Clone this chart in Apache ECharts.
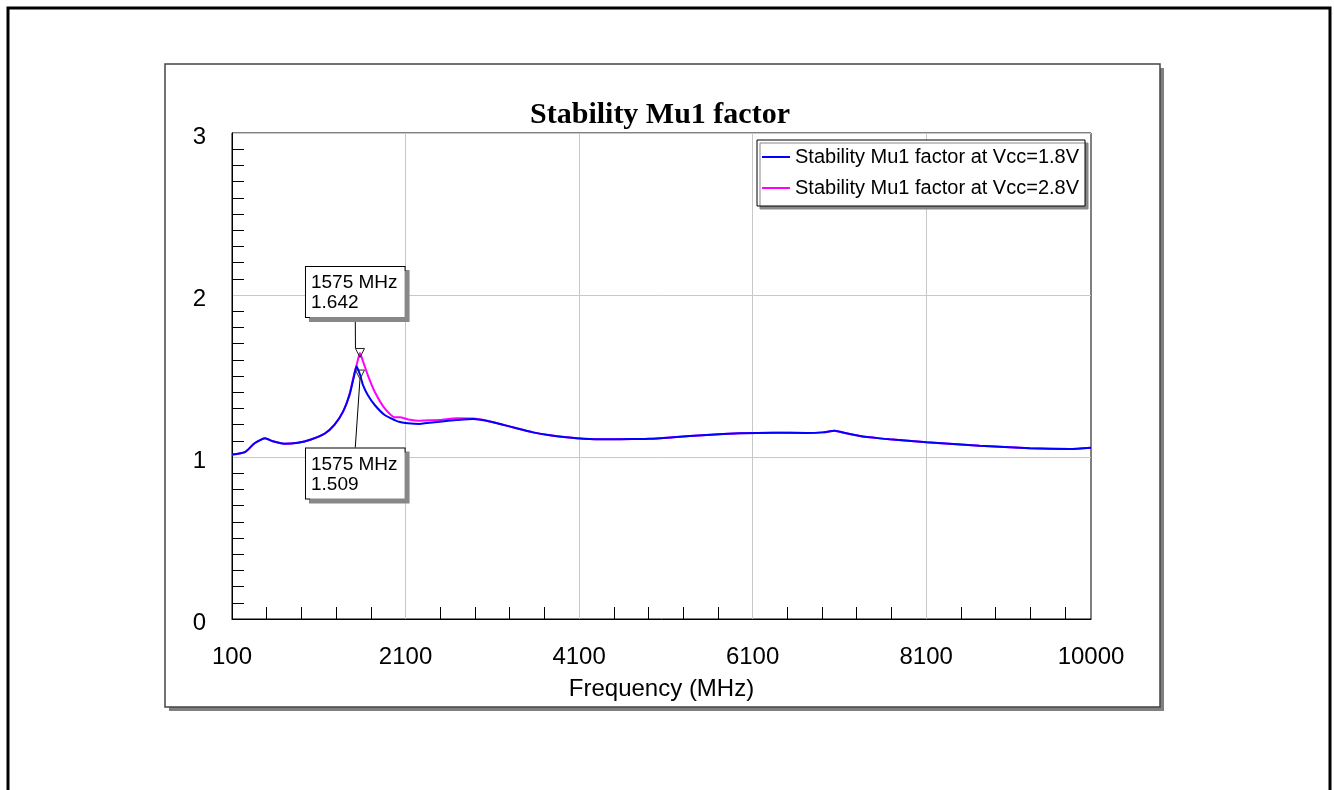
<!DOCTYPE html>
<html lang="en">
<head>
    <meta charset="UTF-8" />
    <title>Stability Mu1 factor</title>
    <script src="https://cdn.jsdelivr.net/npm/echarts@6/dist/echarts.min.js"></script>
    <style>
        body { margin: 0; background: #fff; }
        #chart { width: 1334px; height: 790px; }
    </style>
</head>
<body>
    <div id="chart"></div>
    <script>
        // frequency points (MHz)
        const freqs = [100, 250, 360, 480, 570, 700, 860, 1010, 1170, 1280, 1380, 1455, 1505, 1535, 1575,
            1610, 1665, 1745, 1860, 1975, 2035, 2130, 2265, 2320, 2495, 2690, 2880, 3035, 3190, 3380,
            3570, 3765, 3955, 4150, 4415, 4720, 4915, 5185, 5570, 5950, 6335, 6720, 6910, 7045, 7180,
            7335, 7565, 7680, 8105, 8715, 9295, 9755, 10000];

        // Vcc = 1.8V
        const mu18 = [1.015, 1.03, 1.085, 1.115, 1.097, 1.082, 1.088, 1.108, 1.145, 1.198, 1.28, 1.383, 1.496, 1.56, 1.509,
            1.444, 1.383, 1.321, 1.259, 1.228, 1.216, 1.208, 1.204, 1.208, 1.218, 1.228, 1.235, 1.224, 1.204, 1.177,
            1.152, 1.134, 1.122, 1.113, 1.109, 1.111, 1.113, 1.122, 1.136, 1.146, 1.150, 1.148, 1.152, 1.162, 1.146,
            1.130, 1.115, 1.109, 1.091, 1.070, 1.054, 1.049, 1.057];

        // Vcc = 2.8V
        const mu28 = [1.015, 1.03, 1.085, 1.115, 1.097, 1.082, 1.088, 1.108, 1.145, 1.198, 1.28, 1.39, 1.505, 1.565, 1.642,
            1.59, 1.506, 1.403, 1.300, 1.245, 1.245, 1.232, 1.224, 1.226, 1.228, 1.239, 1.237, 1.224, 1.204, 1.177,
            1.152, 1.134, 1.122, 1.113, 1.109, 1.111, 1.113, 1.122, 1.136, 1.146, 1.150, 1.148, 1.152, 1.162, 1.146,
            1.130, 1.115, 1.109, 1.091, 1.070, 1.054, 1.049, 1.057];

        const seriesNames = ['Stability Mu1 factor at Vcc=1.8V', 'Stability Mu1 factor at Vcc=2.8V'];

        // marker readouts
        const markerFreq = 1575;
        const marker28 = 1.642;
        const marker18 = 1.509;

        // axis ticks
        const xLabelValues = [100, 2100, 4100, 6100, 8100, 10000];
        const xGridValues = [2100, 4100, 6100, 8100];
        const xMinorValues = [500, 900, 1300, 1700, 2500, 2900, 3300, 3700, 4500, 4900, 5300, 5700,
            6500, 6900, 7300, 7700, 8500, 8900, 9300, 9700];

        const font = '"Liberation Sans", Arial, sans-serif';

        const chart = echarts.init(document.getElementById('chart'));

        const markerLabel = {
            show: true,
            formatter: p => markerFreq + ' MHz\n' + p.value[1].toFixed(3),
            fontFamily: font,
            fontSize: 19,
            lineHeight: 20,
            color: '#000',
            align: 'left',
            backgroundColor: '#fff',
            borderColor: '#000',
            borderWidth: 1,
            padding: [6, 7, 4, 5],
            shadowColor: '#888',
            shadowOffsetX: 4,
            shadowOffsetY: 4,
            shadowBlur: 0
        };

        const option = {
            backgroundColor: '#fff',
            animation: false,
            graphic: [
                { type: 'rect', z: -10, shape: { x: 8, y: 8, width: 1322, height: 800 },
                  style: { fill: '#fff', stroke: '#000', lineWidth: 3 } },
                { type: 'rect', z: -9, shape: { x: 169, y: 68, width: 995, height: 643 },
                  style: { fill: '#808080' } },
                { type: 'rect', z: -8, shape: { x: 165, y: 64, width: 995, height: 643 },
                  style: { fill: '#fff', stroke: '#444', lineWidth: 1.5 } }
            ],
            title: {
                text: 'Stability Mu1 factor',
                left: 655,
                top: 95,
                textAlign: 'center',
                textStyle: { fontFamily: '"Liberation Serif", "Times New Roman", serif', fontWeight: 'bold', fontSize: 30, color: '#000' }
            },
            legend: {
                data: seriesNames,
                orient: 'vertical',
                left: 757,
                top: 140,
                padding: [7, 6, 8, 5],
                itemGap: 11,
                itemWidth: 28,
                itemHeight: 2,
                icon: 'rect',
                backgroundColor: '#fff',
                borderColor: '#000',
                borderWidth: 1,
                shadowColor: '#888',
                shadowOffsetX: 3,
                shadowOffsetY: 3,
                shadowBlur: 0,
                textStyle: { fontFamily: font, fontSize: 20, color: '#000' }
            },
            grid: {
                left: 232, top: 133, width: 859, height: 486,
                show: true, borderColor: '#000', borderWidth: 1, backgroundColor: 'transparent'
            },
            xAxis: [{
                type: 'value',
                min: 100,
                max: 10000,
                position: 'bottom',
                name: 'Frequency (MHz)',
                nameLocation: 'middle',
                nameGap: 58,
                nameTextStyle: { fontFamily: font, fontSize: 24, color: '#000' },
                axisLine: { lineStyle: { color: '#000', width: 1 } },
                axisTick: { show: true, inside: true, length: 12, customValues: xMinorValues, lineStyle: { color: '#000' } },
                axisLabel: { customValues: xLabelValues, formatter: v => String(v), margin: 26, fontFamily: font, fontSize: 24, color: '#000' },
                splitLine: { show: false }
            }, {
                type: 'value',
                min: 100,
                max: 10000,
                position: 'top',
                axisLine: { show: false },
                axisTick: { show: false, customValues: xGridValues },
                axisLabel: { show: false },
                splitLine: { show: true, lineStyle: { color: '#c8c8c8', width: 1 } }
            }],
            yAxis: {
                type: 'value',
                min: 0,
                max: 3,
                interval: 1,
                axisLine: { show: true, lineStyle: { color: '#000', width: 1 } },
                axisTick: { show: false, inside: true },
                minorTick: { show: true, splitNumber: 10, length: 12, lineStyle: { color: '#000' } },
                axisLabel: { margin: 26, verticalAlign: 'top', lineHeight: 8, fontFamily: font, fontSize: 24, color: '#000' },
                splitLine: { show: true, lineStyle: { color: '#c8c8c8', width: 1 } }
            },
            series: [
                {
                    name: seriesNames[0],
                    type: 'line',
                    z: 4,
                    data: freqs.map((f, i) => [f, mu18[i]]),
                    symbol: 'none',
                    smooth: 0.2,
                    lineStyle: { color: '#0000ff', width: 2 },
                    itemStyle: { color: '#0000ff' }
                },
                {
                    name: seriesNames[1],
                    type: 'line',
                    z: 3,
                    data: freqs.map((f, i) => [f, mu28[i]]),
                    symbol: 'none',
                    smooth: 0.2,
                    lineStyle: { color: '#ff00ff', width: 2 },
                    itemStyle: { color: '#ff00ff' }
                },
                {
                    name: 'marker28',
                    type: 'scatter',
                    z: 6,
                    data: [[markerFreq, marker28]],
                    symbol: 'triangle',
                    symbolRotate: 180,
                    symbolSize: 9,
                    itemStyle: { color: 'rgba(0,0,0,0)', borderColor: '#222', borderWidth: 1, opacity: 1 },
                    label: Object.assign({ position: 'top' }, markerLabel),
                    labelLayout: { dx: -54, dy: -26 },
                    labelLine: { show: true, lineStyle: { color: '#000', width: 1 } }
                },
                {
                    name: 'marker18',
                    type: 'scatter',
                    z: 6,
                    data: [[markerFreq, marker18]],
                    symbol: 'triangle',
                    symbolRotate: 180,
                    symbolSize: 9,
                    itemStyle: { color: 'rgba(0,0,0,0)', borderColor: '#222', borderWidth: 1, opacity: 1 },
                    label: Object.assign({ position: 'bottom' }, markerLabel),
                    labelLayout: { dx: -54, dy: 64 },
                    labelLine: { show: true, lineStyle: { color: '#000', width: 1 } }
                }
            ]
        };

        chart.setOption(option);
    </script>
</body>
</html>
